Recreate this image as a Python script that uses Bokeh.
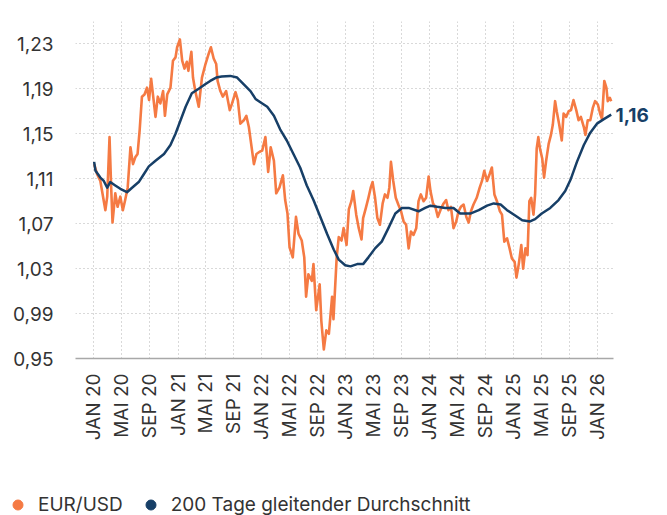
import math
import pandas as pd
from bokeh.plotting import figure
from bokeh.layouts import column
from bokeh.models import (Range1d, FixedTicker, CustomJSTickFormatter, LinearAxis,
                          Legend, LegendItem, ColumnDataSource)
from bokeh.embed import file_html
from bokeh.resources import INLINE

ORANGE = "#F57A43"
NAVY = "#173F67"
TEXT = "#333333"
FONT = "Inter"

# ---------------- data ----------------
eur_dates = [
    "2020-01-02", "2020-01-15", "2020-01-29", "2020-02-20", "2020-02-28", "2020-03-09", "2020-03-16",
    "2020-03-22", "2020-04-03", "2020-04-13", "2020-04-25", "2020-05-06", "2020-05-16", "2020-05-27",
    "2020-06-08", "2020-06-19", "2020-06-29", "2020-07-09", "2020-07-18", "2020-07-28", "2020-08-08",
    "2020-08-19", "2020-08-28", "2020-09-06", "2020-09-15", "2020-09-25", "2020-10-05", "2020-10-16",
    "2020-10-28", "2020-11-05", "2020-11-15", "2020-11-29", "2020-12-10", "2020-12-21", "2020-12-28",
    "2021-01-09", "2021-01-19", "2021-01-29", "2021-02-08", "2021-02-15", "2021-02-28", "2021-03-07",
    "2021-03-17", "2021-04-01", "2021-04-15", "2021-04-29", "2021-05-14", "2021-05-24", "2021-06-05",
    "2021-06-16", "2021-06-22", "2021-07-04", "2021-07-15", "2021-07-29", "2021-08-14", "2021-08-24",
    "2021-09-08", "2021-09-18", "2021-09-29", "2021-10-14", "2021-10-25", "2021-11-05", "2021-11-15",
    "2021-11-27", "2021-12-08", "2021-12-22", "2022-01-02", "2022-01-16", "2022-01-28", "2022-02-08",
    "2022-02-22", "2022-03-04", "2022-03-18", "2022-04-02", "2022-04-12", "2022-04-22", "2022-05-01",
    "2022-05-15", "2022-05-29", "2022-06-09", "2022-06-23", "2022-07-04", "2022-07-12", "2022-07-22",
    "2022-08-06", "2022-08-13", "2022-08-25", "2022-09-09", "2022-09-16", "2022-09-27", "2022-10-08",
    "2022-10-19", "2022-11-02", "2022-11-08", "2022-11-22", "2022-12-01", "2022-12-13", "2022-12-22",
    "2023-01-04", "2023-01-14", "2023-01-25", "2023-02-02", "2023-02-15", "2023-02-26", "2023-03-10",
    "2023-03-17", "2023-03-29", "2023-04-09", "2023-04-19", "2023-04-27", "2023-05-08", "2023-05-18",
    "2023-05-29", "2023-06-10", "2023-06-20", "2023-07-01", "2023-07-09", "2023-07-16", "2023-07-26",
    "2023-08-06", "2023-08-17", "2023-08-29", "2023-09-09", "2023-09-20", "2023-10-01", "2023-10-11",
    "2023-10-22", "2023-11-03", "2023-11-13", "2023-11-23", "2023-12-05", "2023-12-16", "2023-12-27",
    "2024-01-04", "2024-01-15", "2024-01-25", "2024-02-05", "2024-02-16", "2024-03-01", "2024-03-12",
    "2024-03-22", "2024-04-02", "2024-04-13", "2024-04-25", "2024-05-05", "2024-05-15", "2024-05-27",
    "2024-06-08", "2024-06-18", "2024-06-28", "2024-07-09", "2024-07-23", "2024-08-05", "2024-08-15",
    "2024-08-25", "2024-09-06", "2024-09-17", "2024-09-27", "2024-10-08", "2024-10-19", "2024-11-01",
    "2024-11-10", "2024-11-20", "2024-12-02", "2024-12-13", "2024-12-23", "2025-01-04", "2025-01-12",
    "2025-01-22", "2025-02-02", "2025-02-10", "2025-02-20", "2025-03-01", "2025-03-09", "2025-03-17",
    "2025-03-27", "2025-04-03", "2025-04-10", "2025-04-17", "2025-04-24", "2025-05-04", "2025-05-12",
    "2025-05-21", "2025-06-01", "2025-06-11", "2025-06-19", "2025-06-29", "2025-07-06", "2025-07-17",
    "2025-07-28", "2025-08-05", "2025-08-16", "2025-08-27", "2025-09-06", "2025-09-17", "2025-09-29",
    "2025-10-09", "2025-10-19", "2025-11-01", "2025-11-08", "2025-11-18", "2025-11-29", "2025-12-10",
    "2025-12-20", "2026-01-01", "2026-01-12", "2026-01-19", "2026-01-29", "2026-02-07", "2026-02-13",
    "2026-02-22", "2026-02-28",
]
eur_values = [
    1.123, 1.114, 1.108, 1.082, 1.094, 1.147, 1.103,
    1.071, 1.097, 1.085, 1.094, 1.082, 1.091, 1.102,
    1.138, 1.123, 1.129, 1.132, 1.153, 1.183, 1.185,
    1.191, 1.180, 1.199, 1.183, 1.165, 1.183, 1.177,
    1.188, 1.166, 1.185, 1.191, 1.215, 1.218, 1.227,
    1.234, 1.215, 1.208, 1.214, 1.206, 1.223, 1.200,
    1.188, 1.174, 1.200, 1.211, 1.221, 1.227, 1.217,
    1.212, 1.197, 1.188, 1.183, 1.188, 1.171, 1.177,
    1.187, 1.180, 1.159, 1.162, 1.166, 1.156, 1.141,
    1.123, 1.132, 1.134, 1.135, 1.147, 1.116, 1.138,
    1.126, 1.097, 1.102, 1.113, 1.091, 1.079, 1.049,
    1.040, 1.076, 1.061, 1.055, 1.040, 1.005, 1.025,
    1.019, 1.034, 0.993, 1.016, 0.984, 0.958, 0.975,
    0.972, 1.005, 0.985, 1.040, 1.058, 1.055, 1.066,
    1.051, 1.083, 1.090, 1.099, 1.078, 1.066, 1.056,
    1.075, 1.084, 1.093, 1.102, 1.107, 1.093, 1.075,
    1.069, 1.088, 1.096, 1.093, 1.102, 1.125, 1.108,
    1.093, 1.087, 1.081, 1.072, 1.069, 1.048, 1.063,
    1.060, 1.066, 1.090, 1.096, 1.090, 1.093, 1.112,
    1.099, 1.088, 1.085, 1.076, 1.082, 1.088, 1.091,
    1.082, 1.085, 1.066, 1.072, 1.081, 1.085, 1.087,
    1.076, 1.071, 1.081, 1.087, 1.093, 1.102, 1.108,
    1.117, 1.108, 1.114, 1.120, 1.096, 1.090, 1.081,
    1.078, 1.054, 1.057, 1.048, 1.039, 1.036, 1.022,
    1.034, 1.051, 1.030, 1.048, 1.042, 1.090, 1.093,
    1.078, 1.096, 1.137, 1.147, 1.137, 1.128, 1.111,
    1.126, 1.141, 1.149, 1.158, 1.179, 1.170, 1.158,
    1.144, 1.168, 1.165, 1.170, 1.171, 1.180, 1.171,
    1.162, 1.165, 1.156, 1.149, 1.162, 1.162, 1.173,
    1.179, 1.176, 1.167, 1.163, 1.197, 1.191, 1.179,
    1.182, 1.179,
]

ma_dates = [
    "2020-01-02", "2020-01-08", "2020-01-29", "2020-02-13", "2020-02-28", "2020-03-12", "2020-04-03",
    "2020-04-25", "2020-05-24", "2020-06-15", "2020-07-14", "2020-08-05", "2020-08-27", "2020-09-25",
    "2020-11-01", "2020-11-29", "2020-12-21", "2021-01-12", "2021-02-03", "2021-03-02", "2021-04-01",
    "2021-04-29", "2021-05-21", "2021-06-16", "2021-07-10", "2021-08-16", "2021-09-15", "2021-10-14",
    "2021-11-12", "2021-12-04", "2021-12-25", "2022-01-24", "2022-02-22", "2022-03-21", "2022-04-19",
    "2022-05-18", "2022-06-16", "2022-07-15", "2022-08-13", "2022-09-12", "2022-10-11", "2022-11-09",
    "2022-12-01", "2022-12-29", "2023-01-21", "2023-02-19", "2023-03-17", "2023-04-09", "2023-05-08",
    "2023-06-06", "2023-07-05", "2023-08-04", "2023-09-02", "2023-10-01", "2023-11-13", "2023-12-12",
    "2024-01-04", "2024-02-02", "2024-03-08", "2024-04-13", "2024-05-12", "2024-06-25", "2024-08-01",
    "2024-09-06", "2024-10-05", "2024-11-04", "2024-12-02", "2025-01-08", "2025-02-06", "2025-03-12",
    "2025-04-03", "2025-05-02", "2025-06-08", "2025-07-14", "2025-08-12", "2025-09-04", "2025-10-02",
    "2025-11-01", "2025-11-29", "2025-12-28", "2026-01-27", "2026-02-28",
]
ma_values = [
    1.125, 1.117, 1.111, 1.108, 1.102, 1.107, 1.104,
    1.101, 1.098, 1.102, 1.107, 1.114, 1.121, 1.126,
    1.132, 1.140, 1.150, 1.162, 1.174, 1.186, 1.190,
    1.194, 1.197, 1.200, 1.201, 1.2015, 1.200, 1.194,
    1.188, 1.181, 1.178, 1.174, 1.166, 1.154, 1.144,
    1.132, 1.120, 1.104, 1.091, 1.076, 1.061, 1.047,
    1.038, 1.033, 1.032, 1.034, 1.034, 1.040, 1.048,
    1.054, 1.066, 1.079, 1.084, 1.084, 1.081, 1.084,
    1.086, 1.085, 1.084, 1.084, 1.079, 1.079, 1.082,
    1.086, 1.088, 1.087, 1.082, 1.077, 1.073, 1.072,
    1.074, 1.079, 1.084, 1.091, 1.099, 1.109, 1.125,
    1.140, 1.151, 1.159, 1.163, 1.167,
]

tick_dates = [
    "2020-01-01", "2020-05-01", "2020-09-01", "2021-01-01", "2021-05-01", "2021-09-01",
    "2022-01-01", "2022-05-01", "2022-09-01", "2023-01-01", "2023-05-01", "2023-09-01",
    "2024-01-01", "2024-05-01", "2024-09-01", "2025-01-01", "2025-05-01", "2025-09-01",
    "2026-01-01",
]
tick_labels = [
    "JAN 20", "MAI 20", "SEP 20", "JAN 21", "MAI 21", "SEP 21",
    "JAN 22", "MAI 22", "SEP 22", "JAN 23", "MAI 23", "SEP 23",
    "JAN 24", "MAI 24", "SEP 24", "JAN 25", "MAI 25", "SEP 25",
    "JAN 26",
]
y_ticks = [0.95, 0.99, 1.03, 1.07, 1.11, 1.15, 1.19, 1.23]

series_names = ["EUR/USD", "200 Tage gleitender Durchschnitt"]

# ---------------- main chart ----------------
def ms(d):
    return float(pd.Timestamp(d).timestamp() * 1000.0)

src_eur = ColumnDataSource(dict(x=pd.to_datetime(eur_dates), y=eur_values))
src_ma = ColumnDataSource(dict(x=pd.to_datetime(ma_dates), y=ma_values))

p = figure(width=667, height=471, x_axis_type="datetime",
           output_backend="svg", toolbar_location=None,
           x_range=Range1d(ms("2019-10-13"), ms("2026-03-10")),
           y_range=Range1d(0.95, 1.2499))
p.min_border_left = 75
p.min_border_right = 54
p.min_border_top = 21
p.min_border_bottom = 113
p.outline_line_color = None
p.background_fill_color = "white"
p.border_fill_color = "white"
p.frame_align = False

tick_ms = [ms(d) for d in tick_dates]

xa = p.xaxis[0]
xa.ticker = FixedTicker(ticks=tick_ms)
xa.formatter = CustomJSTickFormatter(args=dict(tvals=tick_ms, tlabels=tick_labels), code="""
    for (let i = 0; i < tvals.length; i++) {
        if (Math.abs(tvals[i] - tick) < 1e6) { return tlabels[i]; }
    }
    return "";
""")
xa.major_label_orientation = math.pi / 2
xa.major_label_standoff = 15
xa.major_tick_line_color = None
xa.major_tick_out = 0
xa.major_tick_in = 0
xa.minor_tick_line_color = None
xa.axis_line_color = "#a8a8a8"
xa.axis_line_width = 1.5
xa.major_label_text_font = FONT
xa.major_label_text_font_size = "19px"
xa.major_label_text_color = TEXT

ya = p.yaxis[0]
ya.ticker = FixedTicker(ticks=y_ticks)
ya.formatter = CustomJSTickFormatter(code="return tick.toFixed(2).replace('.', ',');")
ya.major_label_standoff = 22
ya.major_tick_line_color = None
ya.major_tick_out = 0
ya.major_tick_in = 0
ya.minor_tick_line_color = None
ya.axis_line_color = None
ya.major_label_text_font = FONT
ya.major_label_text_font_size = "19px"
ya.major_label_text_color = TEXT

for g in (p.xgrid[0], p.ygrid[0]):
    g.grid_line_color = "#b3b3b3"
    g.grid_line_dash = "1 3"
    g.grid_line_width = 1

p.line("x", "y", source=src_eur, color=ORANGE, line_width=2.6, line_join="round")
p.line("x", "y", source=src_ma, color=NAVY, line_width=2.5, line_join="round")

# end value of the moving average, shown as a one-tick right axis
end_val = math.floor(ma_values[-1] * 100) / 100
end_text = f"{end_val:.2f}".replace(".", ",")
ra = LinearAxis(ticker=FixedTicker(ticks=[ma_values[-1]]),
                formatter=CustomJSTickFormatter(args=dict(txt=end_text), code="return txt;"),
                axis_line_color=None, major_tick_line_color=None, minor_tick_line_color=None,
                major_tick_out=0, major_tick_in=0, major_label_standoff=2,
                major_label_text_font=FONT, major_label_text_font_style="bold",
                major_label_text_font_size="19px", major_label_text_color=NAVY)
p.add_layout(ra, "right")

# ---------------- legend strip ----------------
lg = figure(width=667, height=44, output_backend="svg", toolbar_location=None,
            x_range=Range1d(0, 1), y_range=Range1d(0, 1),
            x_axis_location=None, y_axis_location=None)
lg.min_border = 0
lg.min_border_left = 0
lg.min_border_right = 0
lg.min_border_top = 0
lg.min_border_bottom = 0
lg.outline_line_color = None
lg.grid.visible = False
lg.frame_align = False
# legend key glyphs: single points kept outside the visible range
r_o = lg.scatter(x=[-5], y=[-5], marker="circle", size=10, color=ORANGE)
r_b = lg.scatter(x=[-5], y=[-5], marker="circle", size=10, color=NAVY)
legend = Legend(items=[LegendItem(label=series_names[0], renderers=[r_o]),
                       LegendItem(label=series_names[1], renderers=[r_b])],
                location=(5, -1.5), orientation="horizontal",
                glyph_width=25, glyph_height=25, label_standoff=8, spacing=15,
                padding=0, margin=0, border_line_color=None,
                background_fill_alpha=0,
                label_text_font=FONT, label_text_font_size="19px",
                label_text_color=TEXT)
lg.add_layout(legend)

layout = column(p, lg, spacing=0)
open("out.html", "w").write(file_html(layout, INLINE))
